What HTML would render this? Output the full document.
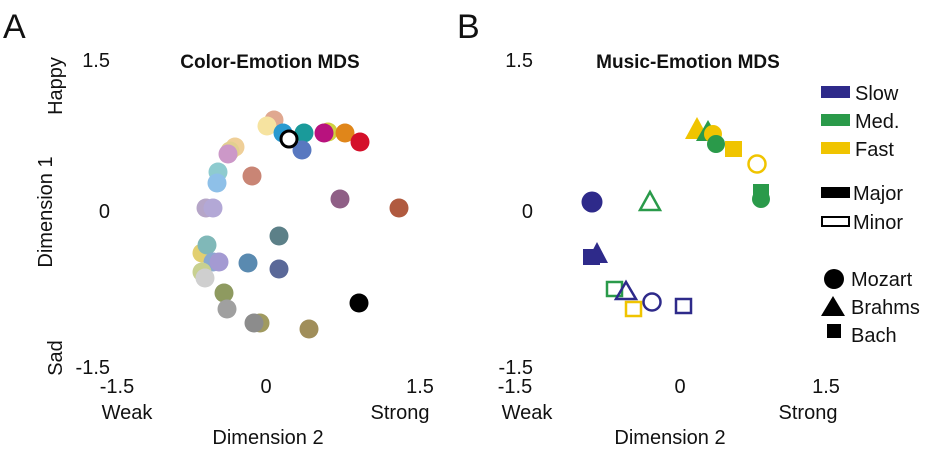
<!DOCTYPE html>
<html><head><style>body{margin:0;background:#fff}svg{display:block}text{font-family:"Liberation Sans",Arial,sans-serif;fill:#111}</style></head>
<body>
<svg width="935" height="452" viewBox="0 0 935 452">
<text x="3" y="38" font-size="34">A</text>
<text x="457" y="38" font-size="34">B</text>
<text x="270" y="68" font-size="19" font-weight="bold" text-anchor="middle">Color-Emotion MDS</text>
<text x="110" y="67" font-size="20" text-anchor="end">1.5</text>
<text x="110" y="218" font-size="20" text-anchor="end">0</text>
<text x="110" y="374" font-size="20" text-anchor="end">-1.5</text>
<text x="117" y="393" font-size="20" text-anchor="middle">-1.5</text>
<text x="266" y="393" font-size="20" text-anchor="middle">0</text>
<text x="420" y="393" font-size="20" text-anchor="middle">1.5</text>
<text x="127" y="419" font-size="20" text-anchor="middle">Weak</text>
<text x="400" y="419" font-size="20" text-anchor="middle">Strong</text>
<text x="268" y="444" font-size="20" text-anchor="middle">Dimension 2</text>
<text transform="translate(62,86) rotate(-90)" font-size="20" text-anchor="middle">Happy</text>
<text transform="translate(52,212) rotate(-90)" font-size="20" text-anchor="middle">Dimension 1</text>
<text transform="translate(62,358) rotate(-90)" font-size="20" text-anchor="middle">Sad</text>
<g stroke="none">
<circle cx="274" cy="120" r="9.5" fill="#e0a890"/>
<circle cx="267" cy="126" r="9.5" fill="#f6e3a0"/>
<circle cx="235" cy="147" r="9.5" fill="#efcf98"/>
<circle cx="230" cy="151" r="9.5" fill="#e2cf90"/>
<circle cx="228" cy="154" r="9.5" fill="#cc98c8"/>
<circle cx="218" cy="172" r="9.5" fill="#8ecbcf"/>
<circle cx="217" cy="183" r="9.5" fill="#8ec0e8"/>
<circle cx="252" cy="176" r="9.5" fill="#c98575"/>
<circle cx="340" cy="199" r="9.5" fill="#8f5f86"/>
<circle cx="399" cy="208" r="9.5" fill="#b05a3f"/>
<circle cx="206" cy="208" r="9.5" fill="#b6a6c8"/>
<circle cx="213" cy="208" r="9.5" fill="#b3a8d6"/>
<circle cx="279" cy="236" r="9.5" fill="#5c8088"/>
<circle cx="202" cy="253" r="9.5" fill="#e2cf70"/>
<circle cx="207" cy="245" r="9.5" fill="#80b8b8"/>
<circle cx="213" cy="262" r="9.5" fill="#8aa8d0"/>
<circle cx="219" cy="262" r="9.5" fill="#a49ad2"/>
<circle cx="248" cy="263" r="9.5" fill="#5a8ab0"/>
<circle cx="279" cy="269" r="9.5" fill="#5a6898"/>
<circle cx="202" cy="272" r="9.5" fill="#c8d090"/>
<circle cx="205" cy="278" r="9.5" fill="#cfcfcf"/>
<circle cx="224" cy="293" r="9.5" fill="#8e9a60"/>
<circle cx="227" cy="309" r="9.5" fill="#a0a0a0"/>
<circle cx="260" cy="323" r="9.5" fill="#a09a60"/>
<circle cx="254" cy="323" r="9.5" fill="#8c8c8c"/>
<circle cx="309" cy="329" r="9.5" fill="#a08e5a"/>
<circle cx="359" cy="303" r="9.5" fill="#000"/>
<circle cx="283" cy="133" r="9.5" fill="#2a9ad0"/>
<circle cx="304" cy="133" r="9.5" fill="#1a9a9a"/>
<circle cx="302" cy="150" r="9.5" fill="#5878c0"/>
<circle cx="328" cy="132" r="9.5" fill="#d0d040"/>
<circle cx="324" cy="133" r="9.5" fill="#b8127e"/>
<circle cx="345" cy="133" r="9.5" fill="#e0861a"/>
<circle cx="360" cy="142" r="9.5" fill="#d4102a"/>
<circle cx="289" cy="139" r="8" fill="#fff" stroke="#000" stroke-width="3"/>
</g>
<text x="688" y="68" font-size="19" font-weight="bold" text-anchor="middle">Music-Emotion MDS</text>
<text x="533" y="67" font-size="20" text-anchor="end">1.5</text>
<text x="533" y="218" font-size="20" text-anchor="end">0</text>
<text x="533" y="374" font-size="20" text-anchor="end">-1.5</text>
<text x="515" y="393" font-size="20" text-anchor="middle">-1.5</text>
<text x="680" y="393" font-size="20" text-anchor="middle">0</text>
<text x="826" y="393" font-size="20" text-anchor="middle">1.5</text>
<text x="527" y="419" font-size="20" text-anchor="middle">Weak</text>
<text x="808" y="419" font-size="20" text-anchor="middle">Strong</text>
<text x="670" y="444" font-size="20" text-anchor="middle">Dimension 2</text>
<g>
<polygon points="697,117 709,139 685,139" fill="#f0c400"/>
<polygon points="708,120 720,141 696,141" fill="#2a9a4a"/>
<circle cx="713" cy="134" r="9" fill="#f0c400"/>
<circle cx="716" cy="144" r="9" fill="#2a9a4a"/>
<rect x="725" y="141" width="17" height="16" fill="#f0c400"/>
<circle cx="757" cy="164" r="8.5" fill="none" stroke="#f0c400" stroke-width="2.5"/>
<rect x="753" y="184" width="16" height="13" fill="#2a9a4a"/>
<circle cx="761" cy="199" r="9" fill="#2a9a4a"/>
<circle cx="592" cy="202" r="10.5" fill="#2e2a8a"/>
<polygon points="650,192 660,210 640,210" fill="none" stroke="#2a9a4a" stroke-width="2.5"/>
<rect x="583" y="249" width="17" height="16" fill="#2e2a8a"/>
<polygon points="597,242 608,263 586,263" fill="#2e2a8a"/>
<rect x="607" y="282" width="15" height="14" fill="none" stroke="#2a9a4a" stroke-width="2.5"/>
<polygon points="626,282 636,299 616,299" fill="none" stroke="#2e2a8a" stroke-width="2.5"/>
<rect x="626" y="302" width="15" height="14" fill="none" stroke="#f0c400" stroke-width="2.5"/>
<circle cx="652" cy="302" r="8.5" fill="none" stroke="#2e2a8a" stroke-width="2.5"/>
<rect x="676" y="299" width="15" height="14" fill="none" stroke="#2e2a8a" stroke-width="2.5"/>
</g>
<rect x="821" y="86" width="29" height="12" fill="#2e2a8a"/>
<rect x="821" y="114" width="29" height="12" fill="#2a9a4a"/>
<rect x="821" y="142" width="29" height="12" fill="#f0c400"/>
<text x="855" y="100" font-size="20">Slow</text>
<text x="855" y="128" font-size="20">Med.</text>
<text x="855" y="156" font-size="20">Fast</text>
<rect x="821" y="187" width="29" height="11" fill="#000"/>
<rect x="822" y="217" width="27" height="9" fill="none" stroke="#000" stroke-width="2"/>
<text x="853" y="200" font-size="20">Major</text>
<text x="853" y="229" font-size="20">Minor</text>
<circle cx="834" cy="279" r="10" fill="#000"/>
<polygon points="833,296 845,316 821,316" fill="#000"/>
<rect x="827" y="324" width="14" height="14" fill="#000"/>
<text x="851" y="286" font-size="20">Mozart</text>
<text x="851" y="314" font-size="20">Brahms</text>
<text x="851" y="342" font-size="20">Bach</text>
</svg>
</body></html>
